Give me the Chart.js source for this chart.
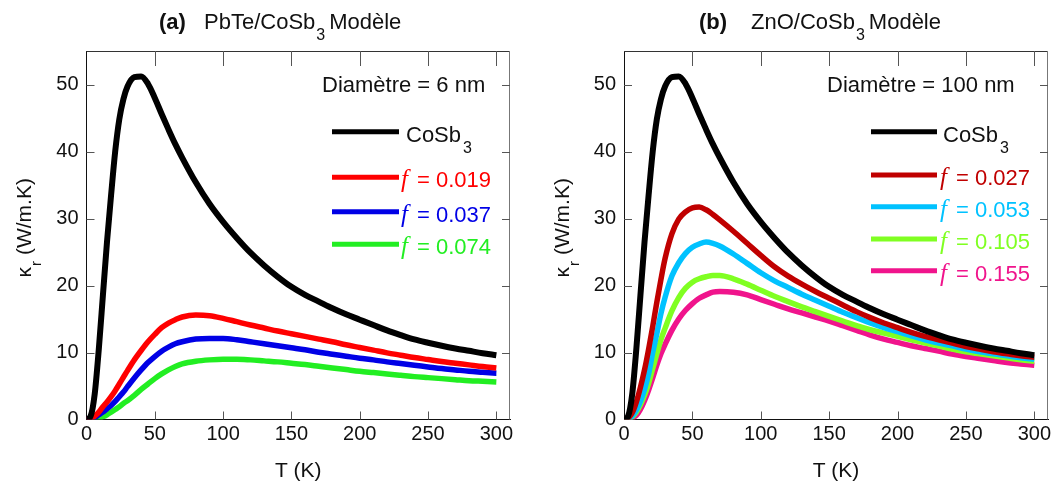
<!DOCTYPE html>
<html>
<head>
<meta charset="utf-8">
<script src="https://cdn.jsdelivr.net/npm/chart.js@4.4.1/dist/chart.umd.min.js"></script>
<style>
  html, body { margin: 0; padding: 0; background: #ffffff; }
  #wrap { position: relative; width: 1058px; height: 488px; overflow: hidden; }
  canvas { position: absolute; top: 0; }
</style>
</head>
<body>
<div id="wrap">
  <canvas id="cA" width="529" height="488" style="left:0px"></canvas>
  <canvas id="cB" width="529" height="488" style="left:529px"></canvas>
</div>
<script>
// ---------- data ----------
const temps = [0,3,6,9,12,15,18,21,24,27,30,35,40,45,50,55,60,65,70,80,90,100,110,120,130,140,150,160,170,180,190,200,210,220,230,240,250,260,270,280,290,300];

const cosb3   = [0,0.5,3.8,10.5,18.5,26.5,33.5,40.0,44.8,47.8,49.7,51.1,51.2,50.1,48.0,45.6,43.3,41.1,39.1,35.4,32.2,29.5,27.1,24.9,23.0,21.3,19.8,18.6,17.6,16.6,15.7,14.9,14.1,13.3,12.6,11.95,11.45,11.0,10.6,10.25,9.9,9.6];

const pbte019 = [0,0.1,0.5,1.1,1.9,2.6,3.4,4.3,5.3,6.3,7.3,8.9,10.3,11.6,12.7,13.7,14.4,14.9,15.3,15.6,15.5,15.1,14.6,14.1,13.65,13.2,12.8,12.4,12.0,11.6,11.15,10.75,10.35,9.95,9.6,9.25,8.95,8.65,8.4,8.15,7.9,7.7];
const pbte037 = [0,0.1,0.3,0.7,1.1,1.6,2.1,2.7,3.4,4.1,4.9,6.2,7.4,8.5,9.4,10.2,10.8,11.3,11.6,12.0,12.1,12.1,11.9,11.6,11.3,11.0,10.7,10.4,10.05,9.75,9.45,9.15,8.9,8.6,8.35,8.1,7.85,7.6,7.4,7.2,7.05,6.9];
const pbte074 = [0,0,0.1,0.2,0.4,0.7,1.1,1.5,1.9,2.4,2.8,3.6,4.5,5.3,6.1,6.8,7.4,7.9,8.3,8.7,8.9,9.0,9.0,8.9,8.75,8.6,8.4,8.2,7.95,7.7,7.45,7.2,7.0,6.8,6.6,6.4,6.25,6.1,5.95,5.8,5.7,5.6];

const zno027 = [0,0.2,1.0,2.6,4.8,7.4,10.5,13.9,17.5,20.9,24.0,27.7,29.9,31.0,31.6,31.7,31.3,30.6,29.8,28.1,26.3,24.5,22.8,21.4,20.2,19.1,18.1,17.1,16.1,15.2,14.4,13.7,13.0,12.4,11.9,11.4,10.9,10.5,10.1,9.8,9.5,9.3];
const zno053 = [0,0.1,0.5,1.4,2.7,4.5,6.8,10.0,12.8,15.8,18.2,21.4,23.4,24.8,25.7,26.2,26.5,26.3,25.9,24.7,23.3,21.9,20.7,19.7,18.7,17.8,16.9,16.0,15.2,14.4,13.7,13.1,12.5,11.9,11.4,11.0,10.5,10.1,9.8,9.5,9.2,9.0];
const zno105 = [0,0.1,0.4,1.1,2.2,3.6,5.4,7.6,9.8,11.9,13.6,16.2,18.2,19.6,20.5,21.0,21.3,21.5,21.5,21.0,20.2,19.3,18.4,17.6,16.8,16.1,15.4,14.7,14.0,13.4,12.9,12.4,11.9,11.4,11.0,10.5,10.1,9.8,9.5,9.2,8.9,8.7];
const zno155 = [0,0,0.2,0.6,1.5,2.8,4.4,6.2,8.1,9.8,11.2,13.3,15.0,16.3,17.3,18.1,18.6,19.0,19.1,19.0,18.6,17.9,17.2,16.5,15.9,15.3,14.7,14.0,13.3,12.6,12.0,11.5,11.0,10.6,10.2,9.75,9.4,9.1,8.8,8.5,8.3,8.1];

const labelsA = ["CoSb", "0.019", "0.037", "0.074"];
const labelsB = ["CoSb", "0.027", "0.053", "0.105", "0.155"];
const colorsA = ["#000000", "#ff0000", "#0000e6", "#22ee22"];
const colorsB = ["#000000", "#c00000", "#00c2ff", "#80ff22", "#f0148c"];
const xTicks = [0, 50, 100, 150, 200, 250, 300];
const yTicks = [0, 10, 20, 30, 40, 50];

// ---------- helpers ----------
const SANS = '"Liberation Sans", Arial, Helvetica, sans-serif';
const SERIF = '"Liberation Serif", "Times New Roman", serif';

function pts(vals) { return temps.map((t, i) => ({ x: t, y: vals[i] })); }

function decorPlugin(cfg) {
  return {
    id: 'decor',
    afterDraw(chart) {
      const ctx = chart.ctx;
      const a = chart.chartArea;
      const xs = chart.scales.x, ys = chart.scales.y;
      ctx.save();
      // frame top / right
      ctx.strokeStyle = '#333';
      ctx.lineWidth = 1;
      ctx.beginPath();
      ctx.moveTo(a.left, a.top + 0.5); ctx.lineTo(a.right, a.top + 0.5);
      ctx.stroke();
      ctx.strokeStyle = '#777';
      ctx.beginPath();
      ctx.moveTo(a.right - 0.5, a.top); ctx.lineTo(a.right - 0.5, a.bottom);
      ctx.stroke();
      // inward ticks
      ctx.strokeStyle = '#555';
      ctx.beginPath();
      xTicks.forEach(v => {
        const px = Math.round(xs.getPixelForValue(v)) + 0.5;
        if (v !== 0) {
          ctx.moveTo(px, a.bottom); ctx.lineTo(px, a.bottom - 8);
          ctx.moveTo(px, a.top); ctx.lineTo(px, a.top + 15);
        }
      });
      yTicks.forEach(v => {
        const py = Math.round(ys.getPixelForValue(v)) + 0.5;
        if (v !== 0) {
          ctx.moveTo(a.left, py); ctx.lineTo(a.left + 8, py);
          ctx.moveTo(a.right, py); ctx.lineTo(a.right - 8, py);
        }
      });
      ctx.stroke();

      ctx.fillStyle = '#111';
      ctx.textBaseline = 'alphabetic';
      // title
      ctx.textAlign = 'left';
      ctx.font = 'bold 22px ' + SANS;
      ctx.fillText(cfg.tag, cfg.title.tagX, 29);
      ctx.font = '22px ' + SANS;
      ctx.fillText(cfg.title.main, cfg.title.mainX, 29);
      const mw = ctx.measureText(cfg.title.main).width;
      ctx.font = '16px ' + SANS;
      const subX = cfg.title.mainX + mw + 1;
      ctx.fillText('3', subX, 40);
      const sw = ctx.measureText('3').width;
      ctx.font = '22px ' + SANS;
      ctx.fillText('Modèle', subX + sw + 4, 29);

      // x axis title
      ctx.textAlign = 'center';
      ctx.font = '21px ' + SANS;
      ctx.fillText('T (K)', (a.left + a.right) / 2, 477);

      // y axis title (rotated)
      ctx.save();
      ctx.translate(cfg.yTitleX, (a.top + a.bottom) / 2 - 7);
      ctx.rotate(-Math.PI / 2);
      ctx.textAlign = 'left';
      ctx.font = '21px ' + SANS;
      const w1 = ctx.measureText('κ').width;
      ctx.font = '15px ' + SANS;
      const w2 = ctx.measureText('r').width;
      ctx.font = '21px ' + SANS;
      const w3 = ctx.measureText(' (W/m.K)').width;
      let x0 = -(w1 + w2 + w3) / 2;
      ctx.fillText('κ', x0, 0);
      ctx.font = '15px ' + SANS;
      ctx.fillText('r', x0 + w1 + 1, 10);
      ctx.font = '21px ' + SANS;
      ctx.fillText(' (W/m.K)', x0 + w1 + w2 + 1, 0);
      ctx.restore();

      // diameter note
      ctx.textAlign = 'left';
      ctx.font = '22px ' + SANS;
      ctx.fillStyle = '#111';
      ctx.fillText(cfg.note, cfg.noteX, 92);

      // legend
      cfg.legend.rows.forEach((r, i) => {
        ctx.strokeStyle = cfg.colors[i];
        ctx.lineWidth = 5;
        ctx.lineCap = 'butt';
        ctx.beginPath();
        ctx.moveTo(cfg.legend.x1, r.ly); ctx.lineTo(cfg.legend.x2, r.ly);
        ctx.stroke();
        if (i === 0) {
          ctx.fillStyle = '#111';
          ctx.font = '22px ' + SANS;
          ctx.fillText(cfg.labels[0], cfg.legend.tx0, r.ly + 10);
          const w = ctx.measureText(cfg.labels[0]).width;
          ctx.font = '16px ' + SANS;
          ctx.fillText('3', cfg.legend.tx0 + w + 2, r.ly + 21);
        } else {
          ctx.fillStyle = cfg.colors[i];
          ctx.font = 'italic 25px ' + SERIF;
          ctx.fillText('f', cfg.legend.tx, r.ly + 10);
          ctx.font = '22px ' + SANS;
          ctx.fillText('= ' + cfg.labels[i], cfg.legend.tx + 16, r.ly + 10);
        }
      });
      ctx.restore();
    }
  };
}

function makeChart(id, series, colors, plotLeft, padRight, cfg) {
  const datasets = series.map((s, i) => ({
    data: pts(s),
    borderColor: colors[i],
    borderWidth: i === 0 ? 6 : 5.5,
    pointRadius: 0,
    fill: false,
    cubicInterpolationMode: 'monotone',
    order: i === 0 ? 0 : 1
  }));
  return new Chart(document.getElementById(id), {
    type: 'line',
    data: { datasets },
    options: {
      responsive: false,
      animation: false,
      devicePixelRatio: 1,
      layout: { padding: { top: 51, right: padRight, left: 0, bottom: 0 } },
      plugins: { legend: { display: false }, tooltip: { enabled: false }, title: { display: false } },
      scales: {
        x: {
          type: 'linear', min: 0, max: 310,
          afterBuildTicks: s => { s.ticks = xTicks.map(v => ({ value: v })); },
          afterFit: s => { s.height = 68.5; },
          grid: { display: false, drawTicks: false },
          border: { display: true, color: '#111', width: 1 },
          ticks: { padding: 3, color: '#111', font: { family: SANS, size: 20 }, maxRotation: 0, autoSkip: false }
        },
        y: {
          type: 'linear', min: 0, max: 55,
          afterBuildTicks: s => { s.ticks = yTicks.map(v => ({ value: v })); },
          afterFit: s => { s.width = plotLeft; },
          grid: { display: false, drawTicks: false },
          border: { display: true, color: '#111', width: 1 },
          ticks: { padding: 8, color: '#111', font: { family: SANS, size: 20 } }
        }
      }
    },
    plugins: [decorPlugin(cfg)]
  });
}

makeChart('cA', [cosb3, pbte019, pbte037, pbte074], colorsA, 86.5, 19, {
  tag: '(a)',
  title: { tagX: 159, mainX: 204, main: 'PbTe/CoSb' },
  yTitleX: 31,
  note: 'Diamètre = 6 nm', noteX: 322,
  colors: colorsA, labels: labelsA,
  legend: { x1: 332, x2: 399, tx0: 406, tx: 401,
    rows: [{ ly: 131.7 }, { ly: 177.3 }, { ly: 211.7 }, { ly: 244.3 }] }
});

makeChart('cB', [cosb3, zno027, zno053, zno105, zno155], colorsB, 95, 10, {
  tag: '(b)',
  title: { tagX: 170, mainX: 222, main: 'ZnO/CoSb' },
  yTitleX: 40,
  note: 'Diamètre = 100 nm', noteX: 298,
  colors: colorsB, labels: labelsB,
  legend: { x1: 342, x2: 408, tx0: 414, tx: 411,
    rows: [{ ly: 131.7 }, { ly: 175 }, { ly: 206.7 }, { ly: 239 }, { ly: 270.7 }] }
});
</script>
</body>
</html>
